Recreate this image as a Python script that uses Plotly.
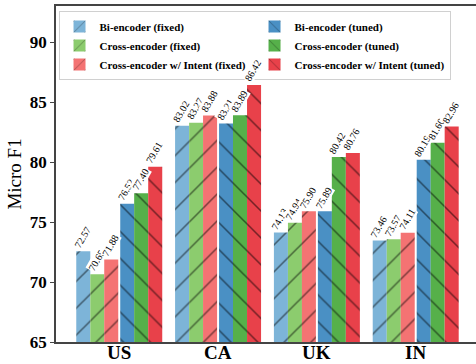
import numpy as np
import plotly.graph_objects as go

countries = ["US", "CA", "UK", "IN"]
series_names = ["Bi-encoder (fixed)", "Bi-encoder (tuned)",
                "Cross-encoder (fixed)", "Cross-encoder (tuned)",
                "Cross-encoder w/ Intent (fixed)", "Cross-encoder w/ Intent (tuned)"]
bi_fixed = [72.57, 83.02, 74.13, 73.46]
cross_fixed = [70.65, 83.27, 74.94, 73.57]
intent_fixed = [71.88, 83.88, 75.90, 74.11]
bi_tuned = [76.52, 83.21, 75.89, 80.19]
cross_tuned = [77.40, 83.89, 80.42, 81.60]
intent_tuned = [79.61, 86.42, 80.76, 82.96]
y_ticks = [65, 70, 75, 80, 85, 90]

values = [bi_fixed, bi_tuned, cross_fixed, cross_tuned, intent_fixed, intent_tuned]
colors = ["#7db4d8", "#4a90c4", "#8ccc6e", "#56b04a", "#f47373", "#e8414a"]
offsets = [-0.364, 0.081, -0.222, 0.222, -0.081, 0.364]
shapes = ["/", "\\", "/", "\\", "/", "\\"]
bw = 0.142

fig = go.Figure()
base = np.arange(len(countries))
annotations = []
for name, vals, col, off, sh in zip(series_names, values, colors, offsets, shapes):
    xs = base + off
    fig.add_trace(go.Bar(
        x=xs, y=[v - 65 for v in vals], base=65, width=bw, name=name,
        marker=dict(color=col, line=dict(width=0),
                    pattern=dict(shape=sh, fgcolor="black", size=19, solidity=0.08)),
    ))
    for xv, v in zip(xs, vals):
        annotations.append(dict(
            x=xv, y=v, xref="x", yref="y", text=f"{v:.2f}", showarrow=False,
            textangle=-60, xanchor="center", yanchor="bottom",
            bgcolor="white", borderpad=0, xshift=-1,
            font=dict(family="Liberation Serif", size=10, color="black"),
        ))

for xv, c in zip(base, countries):
    annotations.append(dict(
        x=xv, y=0, xref="x", yref="paper", text=f"<b>{c}</b>", showarrow=False,
        xanchor="center", yanchor="top", yshift=2,
        font=dict(family="Liberation Serif", size=19, color="black"),
    ))

fig.update_layout(
    width=476, height=364,
    margin=dict(l=56, r=0, t=6, b=22),
    barmode="overlay",
    plot_bgcolor="white", paper_bgcolor="white",
    showlegend=True,
    legend=dict(
        orientation="h", x=0.006, y=0.985, xanchor="left", yanchor="top",
        entrywidth=150, entrywidthmode="pixels",
        font=dict(family="Liberation Serif", size=11, color="black", weight="bold"),
        bgcolor="white", bordercolor="#d0d0d0", borderwidth=1,
        traceorder="normal", tracegroupgap=0,
    ),
    annotations=annotations,
    xaxis=dict(
        range=[-0.64, 3.61], tickmode="array", tickvals=list(base), ticktext=[""] * len(countries),
        showline=True, linecolor="#444444", linewidth=1.5, mirror=True,
        ticks="", showgrid=False, zeroline=False, automargin=False,
    ),
    yaxis=dict(
        range=[65, 93], tickvals=y_ticks, showline=True, linecolor="#444444", linewidth=1.5,
        ticks="outside", ticklen=4, tickcolor="#444444", showgrid=False, zeroline=False,
        automargin=False,
        tickfont=dict(family="Liberation Serif", size=17, color="black", weight="bold"),
        title=dict(text="Micro F1", standoff=3,
                   font=dict(family="Liberation Serif", size=19, color="black")),
    ),
)

fig.write_html("out.html", config={"displayModeBar": False},
               post_script="document.body.style.margin='0';")
